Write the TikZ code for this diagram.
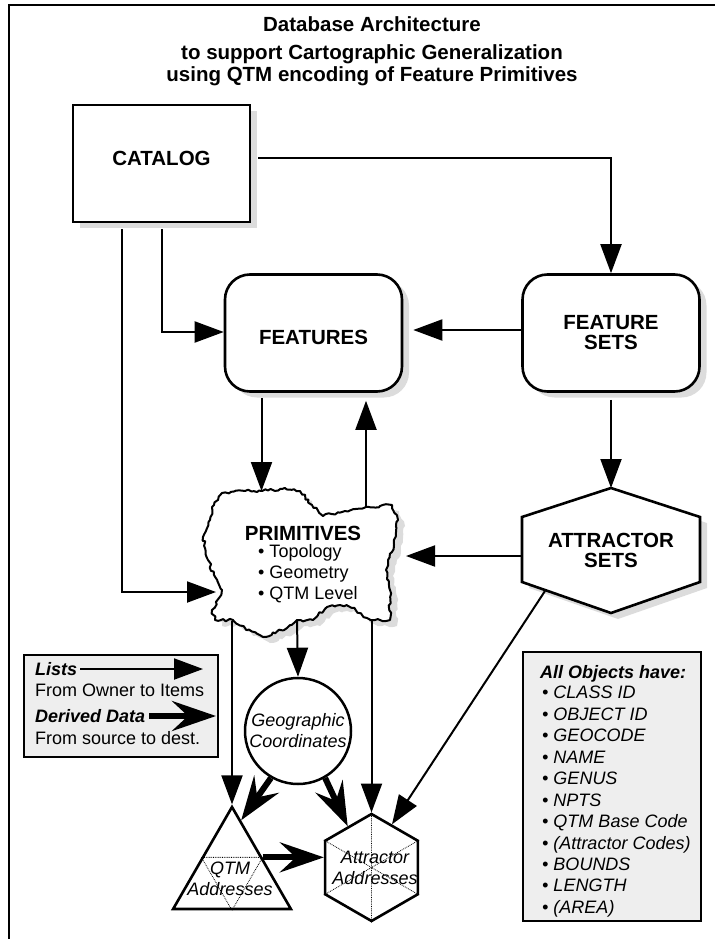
\documentclass[tikz,border=0pt]{standalone}
\usepackage{fontspec}
\setmainfont{Liberation Sans}
\usetikzlibrary{positioning}
\usetikzlibrary{calc}
\usetikzlibrary{arrows.meta}
\usetikzlibrary{shapes.geometric}
\usetikzlibrary{decorations.pathmorphing}
\definecolor{shade}{HTML}{DCDCDC}
\definecolor{panel}{HTML}{EEEEEE}
\tikzset{
  list/.style={line width=2pt, -{Triangle[length=29pt,width=21pt]}},
  derived/.style={line width=6pt, -{Stealth[length=44pt,width=30pt,inset=16pt]}},
  shadowed/.style={preaction={fill=shade, transform canvas={shift={(7pt,-6pt)}}}},
  lbl/.style={font=\fontsize{20.5}{20}\selectfont\bfseries, inner sep=0pt},
  txt/.style={font=\fontsize{18}{21}\selectfont, inner sep=0pt, text height=12.9pt, text depth=0pt, anchor=west},
  ital/.style={font=\fontsize{18}{21}\selectfont\itshape},
  bital/.style={font=\fontsize{18}{21}\selectfont\bfseries\itshape},
  box/.style={draw, line width=2.6pt, fill=white, shadowed, lbl, minimum width=177pt, minimum height=117pt},
  rbox/.style={box, rounded corners=25pt},
}
\pgfmathsetseed{7}

\begin{document}
\begin{tikzpicture}[x=1pt, y=-1pt]
    \useasboundingbox (0,0) rectangle (715,939);
    \draw[line width=1.4pt] (9,939) -- (9,5) -- (715,5);

    % title
    \node (ttl1) [lbl, anchor=base] at (372,31.7) {Database Architecture};
    \node (ttl2) [lbl, below=27.6pt of ttl1.base, anchor=base] {to support Cartographic Generalization};
    \node (ttl3) [lbl, below=22.4pt of ttl2.base, anchor=base] {using QTM encoding of Feature Primitives};

    % main objects
    \node (catalog)  [box, text height=14.7pt, text depth=11pt] at (161.5,163.5) {CATALOG};
    \node (features) [rbox, text height=22.7pt, text depth=0pt] at (313.5,333) {FEATURES};
    \node (fsets)    [rbox, align=center] at (611,333) {FEATURE\\SETS};

    \coordinate (atttop) at (611,488);
    \draw[line width=2.6pt, line join=miter, fill=white, shadowed]
        (522,517) -- (atttop) -- (700,517) -- (700,582) -- (611,613) -- (522,582) -- cycle;
    \node (attsets) [lbl, align=center] at (611,550.5) {ATTRACTOR\\SETS};

    \draw[line width=2pt, line join=round, fill=white, shadowed, decorate,
          decoration={random steps, segment length=3pt, amplitude=1.4pt}]
        (210,520) -- (214,505) -- (222,493) -- (245,491) -- (262,491) -- (282,489) -- (300,491)
        -- (312,505) -- (323,516) -- (345,511) -- (366,507) -- (380,506) -- (392,505)
        -- (398,520) -- (394,545) -- (388,560) -- (386,570) -- (390,590) -- (390,620)
        -- (375,620) -- (367,618) -- (353,608) -- (340,605) -- (327,607) -- (313,620)
        -- (297,620) -- (287,628) -- (263,637) -- (245,628) -- (233,620) -- (215,620)
        -- (212,610) -- (219,598) -- (222,590) -- (214,575) -- (208,560) -- (203,537) -- cycle;
    \node (prim) [lbl, text height=14.7pt, text depth=0pt] at (303,533) {PRIMITIVES};
    \foreach \t [count=\i] in {Topology, Geometry, QTM Level}
        \node (prim\i) [txt] at (258,530+21*\i) {\textbullet\ \t};
    \coordinate (primn)  at (261.5,491);
    \coordinate (primne) at (366,507);
    \coordinate (prime)  at (406,556);
    \coordinate (primw)  at (216,592);
    \coordinate (primsw) at (232,621);
    \coordinate (prims)  at (297,621);
    \coordinate (primse) at (371.5,620);

    % derived objects
    \node (geo) [circle, draw, line width=2.5pt, fill=white, minimum size=106pt, inner sep=0pt,
                 align=center, ital] at (298,731) {Geographic\\Coordinates};
    \node (qtm) [regular polygon, regular polygon sides=3, draw, line width=2.6pt, fill=white,
                 minimum size=136pt, inner sep=0pt] at (232,875) {};
    \node (attaddr) [regular polygon, regular polygon sides=6, shape border rotate=30, draw,
                 line width=2.6pt, fill=white, minimum size=107pt, inner sep=0pt] at (371.5,867.5) {};
    \draw[densely dotted, line width=0.8pt] (qtm.side 1) -- (qtm.side 2) -- (qtm.side 3) -- cycle;
    \draw[densely dotted, line width=0.8pt] (attaddr.90) -- (attaddr.270)
        (attaddr.150) -- (attaddr.330) (attaddr.210) -- (attaddr.30);
    \node (qtmtxt) [ital, align=center, inner sep=0pt] at (230,879) {QTM\\Addresses};
    \node (atttxt) [ital, align=center, inner sep=0pt] at (375,868) {Attractor\\Addresses};

    % legend
    \node (legend) [draw, line width=2.5pt, fill=panel, minimum width=194pt, minimum height=102pt] at (121,706) {};
    \node (lists)   [txt, bital] at (35,669) {Lists};
    \node (owner)   [txt] at (35,690) {From Owner to Items};
    \node (derived) [txt, bital] at (35,716) {Derived Data};
    \node (source)  [txt] at (35,738) {From source to dest.};
    \coordinate (liststip)   at (203,669);
    \coordinate (derivedtip) at (216,716);
    \draw[list] ([xshift=3pt]lists.east) -- (liststip);
    \draw[derived] ([xshift=4pt]derived.east) -- (derivedtip);

    % attributes
    \node (objects) [draw, line width=2.5pt, fill=panel, minimum width=178pt, minimum height=269pt] at (612,786.5) {};
    \node (allobj) [txt, bital] at (540,672) {All Objects have:};
    \foreach \t [count=\i] in {CLASS ID, OBJECT ID, GEOCODE, NAME, GENUS, NPTS, QTM Base Code, {(Attractor Codes)}, BOUNDS, LENGTH, {(AREA)}}
        \node (obj\i) [txt, ital] at (542,671+21.45*\i) {\textbullet\ \t};

    % lists
    \draw[list] ([xshift=7pt,yshift=5.5pt]catalog.east) -| (fsets.north);
    \draw[list] ([xshift=0.5pt,yshift=-6pt]catalog.south) |- ([yshift=1pt]features.west);
    \draw[list] ([xshift=-39.5pt,yshift=-6pt]catalog.south) |- (primw);
    \draw[list] ([yshift=3pt]fsets.west) -- ([xshift=10pt,yshift=3pt]features.east);
    \draw[list] ([xshift=-52pt,yshift=-5pt]features.south) -- (primn);
    \draw[list] (primne) -- ([xshift=52.5pt,yshift=-8pt]features.south);
    \draw[list] ([yshift=-7pt]fsets.south) -- (atttop);
    \draw[list] (522,556) -- (prime);
    \draw[list] (545,591) -- ($(attaddr.90)!0.43!(attaddr.30)$);
    \draw[list] (primse) -- (attaddr.90);
    \draw[list] (primsw) -- (qtm.corner 1);
    \draw[list] (prims) -- (geo.north);

    % derived data
    \draw[derived] (geo.-120) -- ($(qtm.corner 1)!0.15!(qtm.corner 3)$);
    \draw[derived] (geo.-60) -- ($(attaddr.90)!0.5!(attaddr.150)$);
    \draw[derived] (qtm.side 3) -- (qtm.side 3 -| attaddr.west);
\end{tikzpicture}
\end{document}
